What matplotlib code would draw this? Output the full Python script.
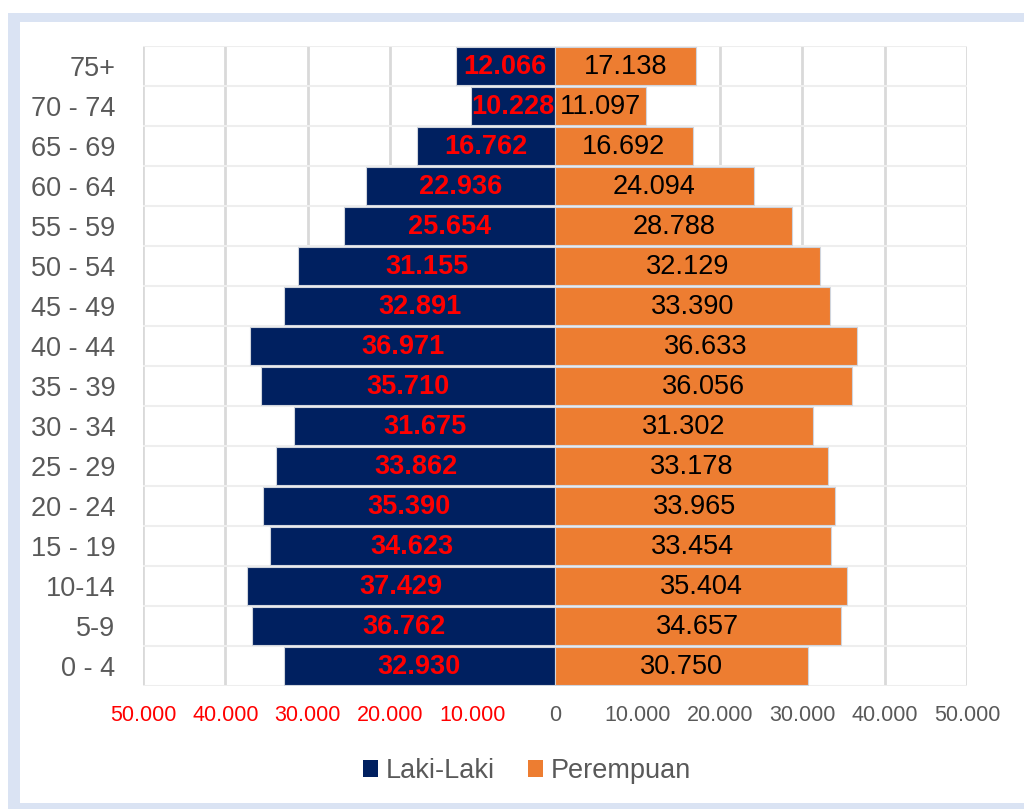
import matplotlib.pyplot as plt
from matplotlib.patches import Rectangle, Patch

plt.rcParams['font.family'] = ['Liberation Sans', 'DejaVu Sans']

# data (bottom to top)
groups = ['0 - 4', '5-9', '10-14', '15 - 19', '20 - 24', '25 - 29', '30 - 34', '35 - 39',
          '40 - 44', '45 - 49', '50 - 54', '55 - 59', '60 - 64', '65 - 69', '70 - 74', '75+']
laki = [32930, 36762, 37429, 34623, 35390, 33862, 31675, 35710,
        36971, 32891, 31155, 25654, 22936, 16762, 10228, 12066]
perempuan = [30750, 34657, 35404, 33454, 33965, 33178, 31302, 36056,
             36633, 33390, 32129, 28788, 24094, 16692, 11097, 17138]
xticks = [-50000, -40000, -30000, -20000, -10000, 0, 10000, 20000, 30000, 40000, 50000]

navy = '#002060'
orange = '#ED7D31'
grey = '#595959'


def fmt(v):
    return f"{abs(v):,}".replace(',', '.')


fig = plt.figure(figsize=(10.24, 8.09), dpi=100)
fig.patch.set_facecolor('white')
# light blue frame
fig.patches.append(Rectangle((8 / 1024, 0), 1.1, 1 - 13 / 809, transform=fig.transFigure,
                             facecolor='#DAE3F3', edgecolor='none', zorder=-2))
fig.patches.append(Rectangle((20 / 1024, 6 / 809), 1.1, 1 - 28 / 809, transform=fig.transFigure,
                             facecolor='white', edgecolor='none', zorder=-1))

ax = fig.add_axes([143 / 1024, 1 - 686 / 809, 824 / 1024, 640 / 809])
ax.set_facecolor('none')

y = list(range(len(groups)))
ax.barh(y, [-v for v in laki], height=0.95, color=navy, edgecolor='#D0D5DD', linewidth=0.8, zorder=3)
ax.barh(y, perempuan, height=0.95, color=orange, edgecolor='#D0D5DD', linewidth=0.8, zorder=3)

for i in y:
    ax.text(-laki[i] / 2, i - 0.03, fmt(laki[i]), ha='center', va='center', color='#FF0000',
            fontsize=19.5, fontweight='bold', zorder=4)
    ax.text(perempuan[i] / 2, i - 0.03, fmt(perempuan[i]), ha='center', va='center', color='black',
            fontsize=19.5, zorder=4)

ax.set_xlim(-50000, 50000)
ax.set_ylim(-0.5, len(groups) - 0.5)
ax.set_xticks(xticks)
ax.set_xticklabels([fmt(v) for v in xticks])
for lbl, v in zip(ax.get_xticklabels(), xticks):
    lbl.set_color('#FF0000' if v < 0 else grey)
ax.set_yticks(y)
ax.set_yticklabels(groups, color=grey, fontsize=19.5)
ax.tick_params(axis='x', length=0, pad=14, labelsize=15.5)
ax.tick_params(axis='y', length=0, pad=20)

# gridlines
ax.set_yticks([i - 0.5 for i in range(len(groups) + 1)] + y, minor=True)
ax.tick_params(axis='y', which='minor', length=0)
ax.grid(axis='y', which='minor', color='#EEEEEE', linewidth=1.5, zorder=0)
ax.grid(axis='x', which='major', color='#D9D9D9', linewidth=2, zorder=0)
for s in ax.spines.values():
    s.set_visible(False)

handles = [Patch(facecolor=navy, label='Laki-Laki'), Patch(facecolor=orange, label='Perempuan')]
fig.legend(handles=handles, loc='center', bbox_to_anchor=(527 / 1024, 1 - 771 / 809), ncol=2,
           frameon=False, fontsize=19.5, labelcolor=grey, handlelength=0.55, handleheight=0.55,
           handletextpad=0.3, columnspacing=1.2)

fig.savefig('out.png', dpi=100, facecolor=fig.get_facecolor())
